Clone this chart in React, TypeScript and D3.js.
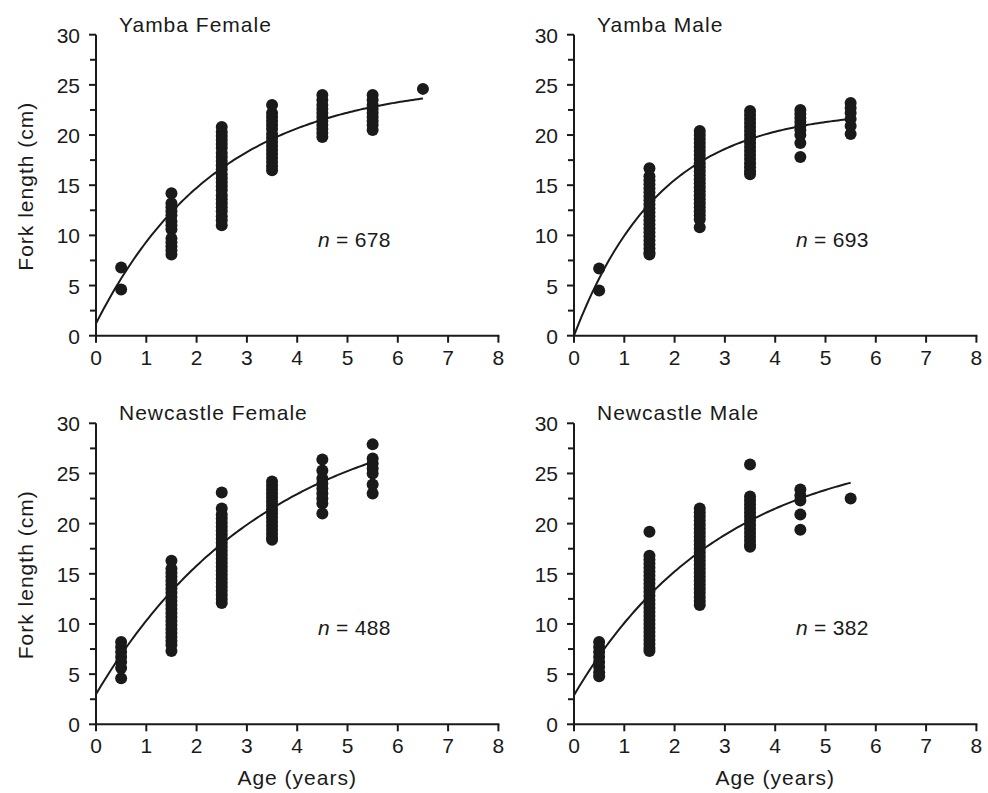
import React from "react";
import * as d3 from "d3";

// ---- Data ----
const AGE_CLASSES = [0.5, 1.5, 2.5, 3.5, 4.5, 5.5, 6.5];
const X_TICKS = [0, 1, 2, 3, 4, 5, 6, 7, 8];
const Y_TICKS = [0, 5, 10, 15, 20, 25, 30];
const Y_MINOR_TICKS = [2.5, 7.5, 12.5, 17.5, 22.5, 27.5];

const PANEL_TITLES = ["Yamba Female", "Yamba Male", "Newcastle Female", "Newcastle Male"];
const SAMPLE_SIZES = [678, 693, 488, 382];

// fork length (cm) per age class
const yambaFemaleFL: number[][] = [
  [6.8, 4.6],
  [14.2, 13.2, 12.8, 12.4, 12.0, 11.4, 11.0, 10.6, 9.7, 9.3, 8.9, 8.5, 8.1],
  [20.8, 20.3, 19.9, 19.5, 19.1, 18.7, 18.2, 17.8, 17.4, 17.0, 16.6, 16.1, 15.7, 15.3, 14.9, 14.5, 14.0, 13.6, 13.2, 12.8, 12.4, 11.9, 11.5, 11.0],
  [23.0, 22.2, 21.8, 21.4, 21.0, 20.6, 20.1, 19.7, 19.3, 18.9, 18.5, 18.1, 17.7, 17.3, 16.9, 16.5],
  [24.0, 23.5, 23.0, 22.6, 22.2, 21.8, 21.4, 21.0, 20.6, 20.2, 19.8],
  [24.0, 23.5, 23.0, 22.6, 22.2, 21.8, 21.4, 21.0, 20.5],
  [24.6],
];
const yambaMaleFL: number[][] = [
  [6.7, 4.5],
  [16.7, 15.9, 15.5, 15.1, 14.7, 14.3, 13.9, 13.5, 13.1, 12.7, 12.3, 11.9, 11.5, 11.1, 10.7, 10.3, 9.9, 9.5, 9.1, 8.7, 8.3, 8.1],
  [20.4, 20.0, 19.6, 19.2, 18.8, 18.4, 18.0, 17.6, 17.2, 16.8, 16.4, 16.0, 15.6, 15.2, 14.8, 14.4, 14.0, 13.6, 13.2, 12.8, 12.4, 12.0, 11.6, 10.8],
  [22.4, 22.0, 21.6, 21.2, 20.8, 20.4, 20.0, 19.6, 19.2, 18.8, 18.4, 18.0, 17.6, 17.2, 16.8, 16.4, 16.1],
  [22.5, 22.1, 21.7, 21.3, 20.9, 20.5, 20.0, 19.2, 17.8],
  [23.2, 22.7, 22.2, 21.6, 20.9, 20.1],
];
const newcastleFemaleFL: number[][] = [
  [8.2, 7.7, 7.2, 6.7, 6.2, 5.6, 4.6],
  [16.3, 15.5, 15.1, 14.7, 14.3, 13.9, 13.5, 13.1, 12.7, 12.3, 11.9, 11.5, 11.1, 10.7, 10.3, 9.9, 9.5, 9.1, 8.7, 8.3, 7.9, 7.3],
  [23.1, 21.5, 20.9, 20.5, 20.1, 19.7, 19.3, 18.9, 18.5, 18.1, 17.7, 17.3, 16.9, 16.5, 16.1, 15.7, 15.3, 14.9, 14.5, 14.1, 13.7, 13.3, 12.9, 12.5, 12.1],
  [24.2, 23.8, 23.4, 23.0, 22.6, 22.2, 21.8, 21.4, 21.0, 20.6, 20.2, 19.8, 19.4, 19.0, 18.6, 18.4],
  [26.4, 25.3, 24.5, 24.0, 23.5, 23.0, 22.5, 22.0, 21.0],
  [27.9, 26.5, 26.0, 25.5, 25.0, 23.9, 23.0],
];
const newcastleMaleFL: number[][] = [
  [8.2, 7.7, 7.2, 6.7, 6.2, 5.7, 5.2, 4.8],
  [19.2, 16.8, 16.4, 16.0, 15.6, 15.2, 14.8, 14.4, 14.0, 13.6, 13.2, 12.8, 12.4, 12.0, 11.6, 11.2, 10.8, 10.4, 10.0, 9.6, 9.2, 8.8, 8.4, 8.0, 7.6, 7.3],
  [21.5, 21.1, 20.7, 20.3, 19.9, 19.5, 19.1, 18.7, 18.3, 17.9, 17.5, 17.1, 16.7, 16.3, 15.9, 15.5, 15.1, 14.7, 14.3, 13.9, 13.5, 13.1, 12.7, 12.3, 11.9],
  [25.9, 22.7, 22.3, 21.9, 21.5, 21.1, 20.7, 20.3, 19.9, 19.5, 19.1, 18.7, 18.3, 17.9, 17.7],
  [23.4, 22.8, 22.3, 20.9, 19.4],
  [22.5],
];
const PANEL_DATA = [yambaFemaleFL, yambaMaleFL, newcastleFemaleFL, newcastleMaleFL];

// von Bertalanffy growth parameters: [Linf, K, t0, tMax]
const yambaFemaleVB = [25.3, 0.412, -0.119, 6.5];
const yambaMaleVB = [22.5, 0.585, 0.0, 5.5];
const newcastleFemaleVB = [32.0, 0.291, -0.339, 5.5];
const newcastleMaleVB = [28.0, 0.3375, -0.325, 5.5];
const PANEL_VB = [yambaFemaleVB, yambaMaleVB, newcastleFemaleVB, newcastleMaleVB];

// ---- Layout ----
const W = 988;
const H = 793;
const COLS = [96, 574];
const ROWS = [335.7, 724.3];
const PLOT_W = 402.4;
const PLOT_H = 301;
const FONT = "'Liberation Sans', Arial, Helvetica, sans-serif";
const INK = "#1a1a1a";

function Panel({ idx }: { idx: number }) {
  const left = COLS[idx % 2];
  const bottom = ROWS[Math.floor(idx / 2)];
  const x = d3.scaleLinear().domain([0, 8]).range([left, left + PLOT_W]);
  const y = d3.scaleLinear().domain([0, 30]).range([bottom, bottom - PLOT_H]);
  const groups = PANEL_DATA[idx];
  const [Linf, K, t0, tMax] = PANEL_VB[idx];
  const ts = d3.range(0, tMax + 1e-9, 0.05);
  const line = d3
    .line<number>()
    .x((t) => x(t))
    .y((t) => y(Linf * (1 - Math.exp(-K * (t - t0)))));
  const showYTitle = idx % 2 === 0;
  const showXTitle = idx >= 2;
  return (
    <g>
      {/* dots */}
      {groups.map((vals, gi) =>
        vals.map((v, vi) => (
          <circle key={`${gi}-${vi}`} cx={x(AGE_CLASSES[gi])} cy={y(v)} r={6} fill={INK} />
        ))
      )}
      {/* growth curve */}
      <path d={line(ts) || ""} fill="none" stroke={INK} strokeWidth={2} />
      {/* axes */}
      <line x1={x(0)} x2={x(0)} y1={y(0) + 1} y2={y(30)} stroke={INK} strokeWidth={2} />
      <line x1={x(0) - 1} x2={x(8) + 1} y1={y(0)} y2={y(0)} stroke={INK} strokeWidth={2} />
      {Y_TICKS.map((t) => (
        <g key={`yt${t}`}>
          <line x1={x(0) - 7} x2={x(0)} y1={y(t)} y2={y(t)} stroke={INK} strokeWidth={2} />
          <text x={x(0) - 16} y={y(t) + 8} textAnchor="end" fontSize={21} fontFamily={FONT} fill={INK}>
            {t}
          </text>
        </g>
      ))}
      {Y_MINOR_TICKS.map((t) => (
        <line key={`ym${t}`} x1={x(0) - 6} x2={x(0)} y1={y(t)} y2={y(t)} stroke={INK} strokeWidth={2} />
      ))}
      {X_TICKS.map((t) => (
        <g key={`xt${t}`}>
          <line x1={x(t)} x2={x(t)} y1={y(0)} y2={y(0) + 7} stroke={INK} strokeWidth={2} />
          <text x={x(t)} y={y(0) + 29} textAnchor="middle" fontSize={21} fontFamily={FONT} fill={INK}>
            {t}
          </text>
        </g>
      ))}
      {/* panel title */}
      <text
        x={left + 23}
        y={bottom - 304}
        fontSize={21}
        letterSpacing={1}
        fontFamily={FONT}
        fill={INK}
      >
        {PANEL_TITLES[idx]}
      </text>
      {/* sample size */}
      <text x={left + 222} y={bottom - 89} fontSize={21} letterSpacing={0.3} fontFamily={FONT} fill={INK}>
        <tspan fontStyle="italic">n</tspan>
        {` = ${SAMPLE_SIZES[idx]}`}
      </text>
      {showYTitle && (
        <text
          transform={`translate(33, ${(y(0) + y(30)) / 2 + 1}) rotate(-90)`}
          textAnchor="middle"
          fontSize={21}
          letterSpacing={1}
          fontFamily={FONT}
          fill={INK}
        >
          Fork length (cm)
        </text>
      )}
      {showXTitle && (
        <text
          x={(x(0) + x(8)) / 2}
          y={785}
          textAnchor="middle"
          fontSize={21}
          letterSpacing={1}
          fontFamily={FONT}
          fill={INK}
        >
          Age (years)
        </text>
      )}
    </g>
  );
}

export default function App() {
  return (
    <svg
      width={W}
      height={H}
      viewBox={`0 0 ${W} ${H}`}
      style={{ position: "absolute", left: 0, top: 0, background: "#fff" }}
    >
      <rect x={0} y={0} width={W} height={H} fill="#fff" />
      {[0, 1, 2, 3].map((i) => (
        <Panel key={i} idx={i} />
      ))}
    </svg>
  );
}
